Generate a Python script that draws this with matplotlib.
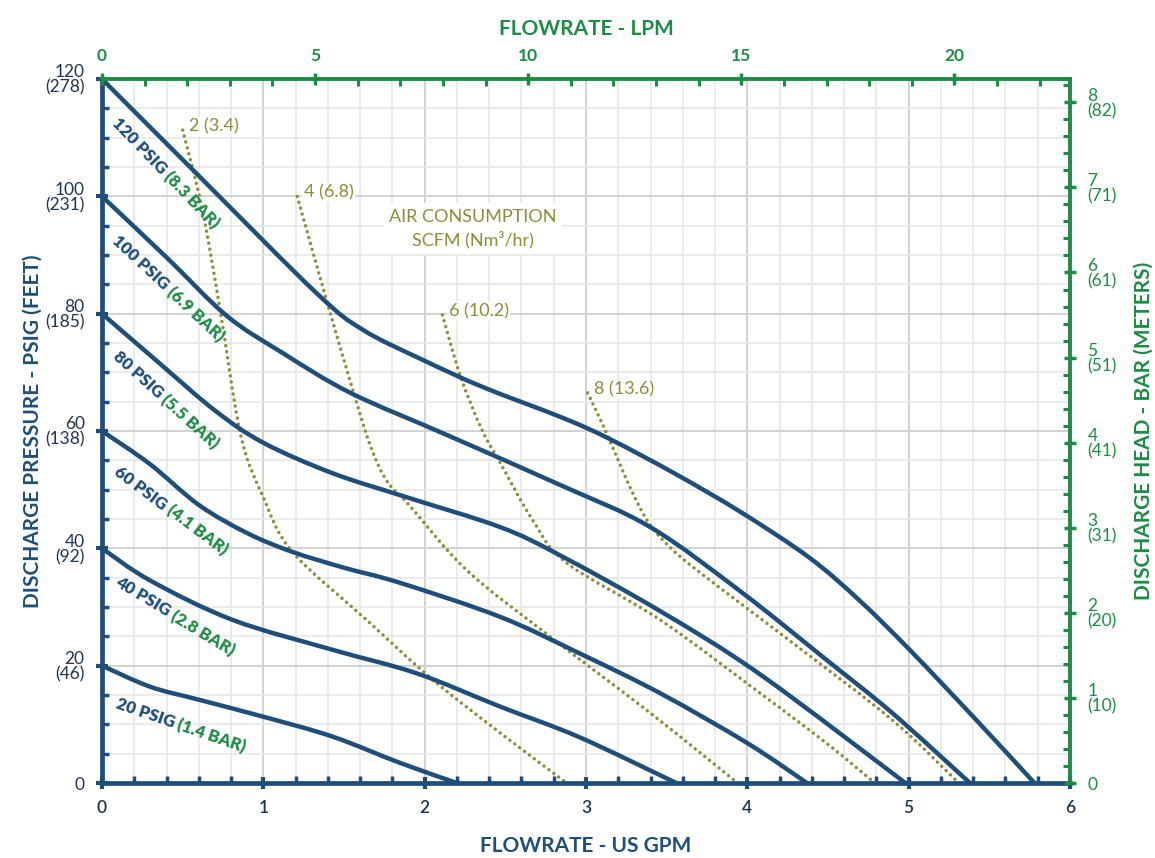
import matplotlib
matplotlib.use('Agg')
import matplotlib.pyplot as plt
import numpy as np
from matplotlib.ticker import MultipleLocator
from matplotlib.path import Path
from matplotlib.patches import PathPatch

plt.rcParams['font.family'] = ['Lato', 'DejaVu Sans']

NAVY = '#1f4e79'
GREEN = '#1e8c45'
OLIVE = '#8c8c3a'

# pump curves: flow (US GPM) vs discharge pressure (PSIG)
psig_120_gpm = [0, 0.6, 1.33, 1.62, 1.99, 2.36, 2.86, 3.15, 3.56, 3.97, 4.39, 4.7, 5.01, 5.4, 5.78]
psig_120_psi = [120, 103.5, 83.5, 77.2, 72.1, 67.5, 62.2, 58.6, 52.6, 46, 38.3, 31, 22.6, 11.3, 0]
psig_100_gpm = [0, 0.4, 0.775, 1.12, 1.54, 2.14, 2.84, 3.4, 3.97, 4.49, 4.9, 5.38]
psig_100_psi = [100, 89.6, 79.6, 73.3, 66.5, 59.3, 50.8, 43.6, 32.4, 21, 11.9, 0]
psig_80_gpm = [0, 0.35, 0.7, 1.0, 1.43, 1.89, 2.47, 2.84, 3.46, 4.08, 4.98]
psig_80_psi = [80, 71.7, 63.5, 58.0, 52.8, 48.7, 43.6, 38.8, 29.3, 18.5, 0]
psig_60_gpm = [0, 0.3, 0.6, 0.9, 1.18, 1.5, 1.85, 2.47, 2.96, 3.46, 4.0, 4.37]
psig_60_psi = [60, 54.3, 47.4, 42.6, 39.4, 36.7, 34.1, 28.3, 22.1, 15.3, 6.8, 0]
psig_40_gpm = [0, 0.3, 0.81, 1.43, 1.95, 2.47, 2.96, 3.56]
psig_40_psi = [40, 34.5, 27.8, 22.7, 18.7, 13, 7.8, 0]
psig_20_gpm = [0, 0.3, 0.6, 1.0, 1.43, 1.85, 2.2]
psig_20_psi = [20, 16.4, 14.2, 11.3, 7.9, 3.4, 0]

# air consumption curves
air_2_gpm = [0.5, 0.62, 0.73, 0.86, 1.0, 1.18, 1.64, 2.05, 2.47, 2.88]
air_2_psi = [111.3, 98, 81, 59.3, 48.7, 39.4, 27.8, 17.6, 8.5, 0]
air_4_gpm = [1.21, 1.395, 1.56, 1.67, 1.77, 1.9, 2.26, 2.78, 3.4, 3.94]
air_4_psi = [100, 82, 66.5, 57, 51.3, 47.5, 36.3, 24.9, 11.9, 0]
air_6_gpm = [2.11, 2.22, 2.35, 2.47, 2.67, 2.88, 3.46, 4.08, 4.49, 4.79]
air_6_psi = [79.8, 69.5, 60.5, 54.5, 44.8, 37.5, 27.8, 15.3, 6.8, 0]
air_8_gpm = [3.01, 3.11, 3.20, 3.29, 3.39, 3.52, 3.71, 4.28, 4.9, 5.31]
air_8_psi = [66.5, 60.7, 55, 49.4, 44.3, 40.2, 35.8, 23.9, 10.7, 0]

pump_curves = [(psig_120_gpm, psig_120_psi), (psig_100_gpm, psig_100_psi),
               (psig_80_gpm, psig_80_psi), (psig_60_gpm, psig_60_psi),
               (psig_40_gpm, psig_40_psi), (psig_20_gpm, psig_20_psi)]
air_curves = [(air_2_gpm, air_2_psi), (air_4_gpm, air_4_psi),
              (air_6_gpm, air_6_psi), (air_8_gpm, air_8_psi)]
air_labels = ['2 (3.4)', '4 (6.8)', '6 (10.2)', '8 (13.6)']

curve_psig = ['120 PSIG', '100 PSIG', '80 PSIG', '60 PSIG', '40 PSIG', '20 PSIG']
curve_bar = ['(8.3 BAR)', '(6.9 BAR)', '(5.5 BAR)', '(4.1 BAR)', '(2.8 BAR)', '(1.4 BAR)']
label_x = [0.08, 0.08, 0.08, 0.09, 0.09, 0.09]
label_y = [113.0, 92.8, 73.1, 53.4, 34.4, 13.6]
label_angle = [-46, -43, -42, -37, -31, -19]

left_ticks = [0, 20, 40, 60, 80, 100, 120]
left_labels = ['0', '20\n(46)', '40\n(92)', '60\n(138)', '80\n(185)', '100\n(231)', '120\n(278)']
right_ticks = [0, 1, 2, 3, 4, 5, 6, 7, 8]
right_labels = ['0', '1\n(10)', '2\n(20)', '3\n(31)', '4\n(41)', '5\n(51)', '6\n(61)', '7\n(71)', '8\n(82)']
lpm_ticks = [0, 5, 10, 15, 20]


def smooth_path(xs, ys):
    # Catmull-Rom through the read points, drawn as cubic Bezier segments
    pts = np.column_stack([xs, ys]).astype(float)
    ext = np.vstack([pts[0], pts, pts[-1]])
    verts = [pts[0]]
    codes = [Path.MOVETO]
    for i in range(1, len(ext) - 2):
        p0, p1, p2, p3 = ext[i - 1], ext[i], ext[i + 1], ext[i + 2]
        verts += [p1 + (p2 - p0) / 6, p2 - (p3 - p1) / 6, p2]
        codes += [Path.CURVE4] * 3
    return Path(verts, codes)


fig = plt.figure(figsize=(11.55, 8.58), dpi=100)
ax = fig.add_axes([0.0883, 0.0874, 0.9264 - 0.0883, 0.9079 - 0.0874])
ax.set_xlim(0, 6)
ax.set_ylim(0, 120)

ax.xaxis.set_minor_locator(MultipleLocator(0.2))
ax.yaxis.set_minor_locator(MultipleLocator(5))
ax.set_xticks(range(7))
ax.set_yticks(left_ticks)
ax.set_yticklabels(left_labels, linespacing=0.95)
ax.grid(which='minor', color='#e8e8e8', lw=1.2, zorder=0)
ax.grid(which='major', color='#d2d2d2', lw=1.4, zorder=0)
ax.set_axisbelow(True)

for s in ['top', 'right']:
    ax.spines[s].set_visible(False)
for s in ['left', 'bottom']:
    ax.spines[s].set_color(NAVY)
    ax.spines[s].set_linewidth(3.4)
ax.tick_params(which='major', direction='inout', length=9, width=3, color=NAVY,
               labelsize=12.5, labelcolor='#1f3550', pad=8)
ax.tick_params(which='minor', direction='in', length=5, width=2.5, color=NAVY)
for t in ax.get_xticklabels():
    t.set_fontweight('semibold')

ax.set_xlabel('FLOWRATE - US GPM', fontsize=15, fontweight='bold', color=NAVY, labelpad=14)
ax.set_ylabel('DISCHARGE PRESSURE - PSIG (FEET)', fontsize=15, fontweight='bold', color=NAVY, labelpad=2)

for (gx, py) in air_curves:
    ax.add_patch(PathPatch(smooth_path(gx, py), facecolor='none', edgecolor=OLIVE, lw=2.5,
                           linestyle=(0, (0.01, 1.75)), capstyle='round', zorder=2))
for (gx, py) in pump_curves:
    ax.add_patch(PathPatch(smooth_path(gx, py), facecolor='none', edgecolor=NAVY, lw=3.2,
                           capstyle='round', zorder=3))

for (gx, py), lab in zip(air_curves, air_labels):
    ax.text(gx[0] + 0.04, py[0] + 0.6, lab, color=OLIVE, fontsize=13, ha='left', va='center',
            bbox=dict(facecolor='white', edgecolor='none', pad=1), zorder=4)

ax.text(2.3, 94.5, 'AIR CONSUMPTION\nSCFM (Nm\u00b3/hr)', color=OLIVE, fontsize=13,
        ha='center', va='center', linespacing=1.4,
        bbox=dict(facecolor='white', edgecolor='none', pad=4), zorder=4)

# two-colour rotated curve labels
fig.canvas.draw()
renderer = fig.canvas.get_renderer()
for p, b, lx, ly, a in zip(curve_psig, curve_bar, label_x, label_y, label_angle):
    ax.text(lx, ly, p, color=NAVY, fontsize=12.2, fontweight='heavy', rotation=a,
            rotation_mode='anchor', ha='left', va='center', zorder=5)
    tmp = ax.text(0, 0, p + ' ', fontsize=12.2, fontweight='heavy')
    w = tmp.get_window_extent(renderer).width
    tmp.remove()
    rad = np.deg2rad(a)
    ax.annotate(b, xy=(lx, ly), xytext=(w * np.cos(rad), w * np.sin(rad)),
                textcoords='offset pixels', color=GREEN, fontsize=12.2, fontweight='heavy',
                rotation=a, rotation_mode='anchor', ha='left', va='center', zorder=5)

# top axis: LPM
ax_top = ax.twiny()
ax_top.set_xlim(0, 6 * 3.78541)
ax_top.set_xticks(lpm_ticks)
ax_top.xaxis.set_minor_locator(MultipleLocator(1))
for s in ['left', 'right', 'bottom']:
    ax_top.spines[s].set_visible(False)
ax_top.spines['top'].set_color(GREEN)
ax_top.spines['top'].set_linewidth(2.8)
ax_top.tick_params(which='major', direction='inout', length=9, width=2.5, color=GREEN,
                   labelsize=12.5, labelcolor=GREEN, pad=6)
ax_top.tick_params(which='minor', direction='in', length=5, width=2.2, color=GREEN)
for t in ax_top.get_xticklabels():
    t.set_fontweight('bold')
ax_top.set_xlabel('FLOWRATE - LPM', fontsize=15, fontweight='bold', color=GREEN, labelpad=10)

# right axis: BAR (meters)
ax_right = ax.twinx()
ax_right.set_ylim(0, 120 / 14.5038)
ax_right.set_yticks(right_ticks)
ax_right.set_yticklabels(right_labels, linespacing=0.95)
ax_right.yaxis.set_minor_locator(MultipleLocator(0.2))
for s in ['left', 'top', 'bottom']:
    ax_right.spines[s].set_visible(False)
ax_right.spines['right'].set_color(GREEN)
ax_right.spines['right'].set_linewidth(2.8)
ax_right.tick_params(which='major', direction='inout', length=9, width=2.5, color=GREEN,
                     labelsize=12.5, labelcolor=GREEN, pad=8)
ax_right.tick_params(which='minor', direction='in', length=5, width=2.2, color=GREEN)
ax_right.set_ylabel('DISCHARGE HEAD - BAR (METERS)', fontsize=15, fontweight='bold',
                    color=GREEN, labelpad=12)

fig.savefig('out.png', dpi=100)
